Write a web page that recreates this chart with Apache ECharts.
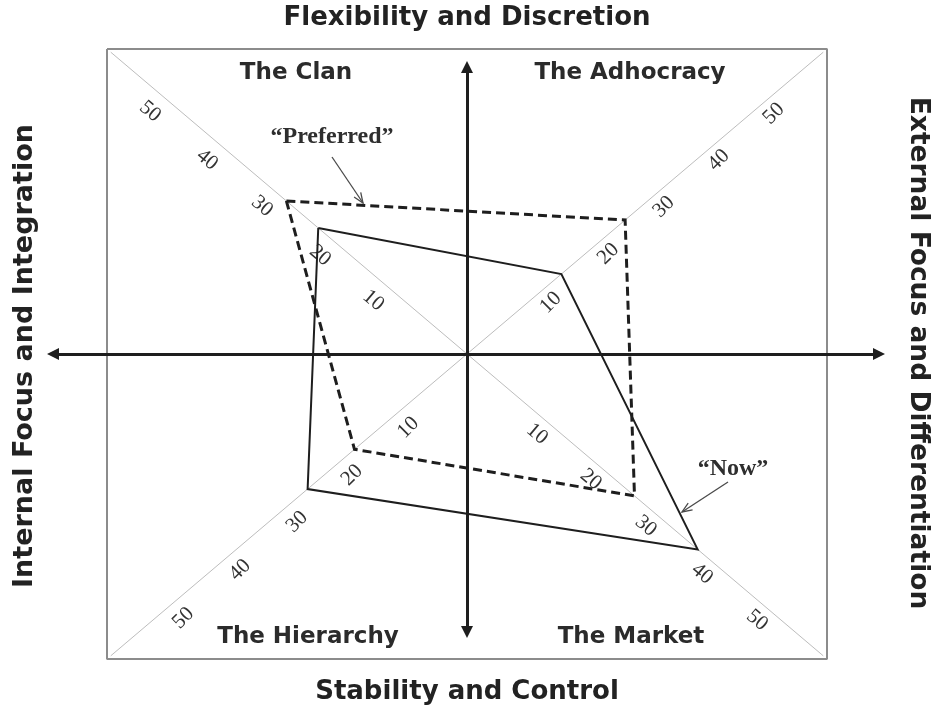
<!DOCTYPE html>
<html><head><meta charset="utf-8">
<script src="https://cdn.jsdelivr.net/npm/echarts@6/dist/echarts.min.js"></script>
<style>html,body{margin:0;padding:0;background:#fff}#c{width:942px;height:708px}</style>
</head><body><div id="c"></div>
<script>
// Culture types, one per diagonal: Clan (top-left), Adhocracy (top-right), Market (bottom-right), Hierarchy (bottom-left)
const cultures = ['The Clan', 'The Adhocracy', 'The Market', 'The Hierarchy'];
// Profile scores per culture, in the order above
const nowScores = [23.8, 15.1, 36.9, 25.5];
const preferredScores = [28.9, 25.3, 26.8, 18.0];
// Diagonal scale labels and where each label sits along its diagonal
const tickLabels = ['10', '20', '30', '40', '50'];
const clanTickPos = [15.0, 23.5, 32.8, 41.6, 50.7];
const adhocracyTickPos = [13.4, 22.6, 31.5, 40.3, 49.1];
const marketTickPos = [11.2, 19.8, 28.6, 37.6, 46.4];
const hierarchyTickPos = [9.4, 18.4, 27.2, 36.3, 45.4];
// Dimension titles: top, bottom, left, right
const dimensionTitles = ['Flexibility and Discretion', 'Stability and Control', 'Internal Focus and Integration', 'External Focus and Differentiation'];
const seriesNames = ['\u201CNow\u201D', '\u201CPreferred\u201D'];
const frameExtent = 57.6;
const diagonalExtent = 57;

// direction of each culture's diagonal in the (x, y) plane
const dirs = [[-1, 1], [1, 1], [1, -1], [-1, -1]];
function polygon(scores) {
  const pts = scores.map((v, i) => [dirs[i][0] * v, dirs[i][1] * v]);
  pts.push(pts[0].slice());
  return pts;
}
const tickSets = [clanTickPos, adhocracyTickPos, marketTickPos, hierarchyTickPos];
const tickStyle = [{rot: -40, off: 26}, {rot: 45, off: 19.6}, {rot: -40, off: 20.6}, {rot: 45, off: 23.8}];
const tickData = [];
const tickMeta = [];
tickSets.forEach((arr, i) => arr.forEach((p, j) => {
  tickData.push([dirs[i][0] * p, dirs[i][1] * p]);
  tickMeta.push({text: tickLabels[j], axis: i});
}));

const chart = echarts.init(document.getElementById('c'), null, {renderer: 'canvas'});
const ink = '#1e1e1e';
const E = frameExtent, D = diagonalExtent;

function arrowGraphic(x1, y1, x2, y2) {
  const len = Math.hypot(x2 - x1, y2 - y1);
  const ux = (x2 - x1) / len, uy = (y2 - y1) / len;
  const px = -uy, py = ux;
  const bx = x2 - ux * 10, by = y2 - uy * 10;
  return [
    {type: 'line', shape: {x1, y1, x2, y2}, style: {stroke: '#4a4a4a', lineWidth: 1.3}, z: 50},
    {type: 'polyline', shape: {points: [[bx + px * 4, by + py * 4], [x2, y2], [bx - px * 4, by - py * 4]]}, style: {stroke: '#4a4a4a', lineWidth: 1.3, fill: null}, z: 50}
  ];
}
function txt(text, x, y, font, fill, rotation) {
  return {type: 'text', x, y, rotation: rotation || 0, z: 50,
    style: {text, font, fill, align: 'center', verticalAlign: 'middle', textAlign: 'center', textVerticalAlign: 'middle'}};
}
const quadFont = 'bold 23px "DejaVu Sans"';
const annFont = 'bold 24px "Liberation Serif"';

const option = {
  animation: false,
  backgroundColor: '#ffffff',
  grid: {left: 47, right: 55, top: 49, bottom: 49, show: false},
  xAxis: {type: 'value', min: -67.2, max: 67.2, show: false},
  yAxis: {type: 'value', min: -57.6, max: 57.6, show: false},
  series: [
    {
      type: 'line', name: 'frame', silent: true, symbol: 'none', z: 2,
      data: [[-E, E], [E, E], [E, -E], [-E, -E], [-E, E]],
      lineStyle: {color: '#8c8c8c', width: 2},
      markLine: {
        silent: true, symbol: ['triangle', 'triangle'], symbolSize: 12, animation: false,
        label: {show: false}, emphasis: {disabled: true},
        lineStyle: {color: ink, width: 3, type: 'solid'},
        data: [
          [{coord: [-66.24, 0]}, {coord: [65.92, 0]}],
          [{coord: [0, 54.2]}, {coord: [0, -52.5]}]
        ]
      }
    },
    {
      type: 'line', name: 'diag1', silent: true, symbol: 'none', z: 1,
      data: [[-D, D], [D, -D]], lineStyle: {color: '#bdbdbd', width: 1}
    },
    {
      type: 'line', name: 'diag2', silent: true, symbol: 'none', z: 1,
      data: [[-D, -D], [D, D]], lineStyle: {color: '#bdbdbd', width: 1}
    },
    {
      type: 'custom', name: 'ticks', silent: true, z: 3,
      data: tickData,
      renderItem: function (params, api) {
        const pt = api.coord([api.value(0), api.value(1)]);
        const m = tickMeta[params.dataIndex];
        const st = tickStyle[m.axis];
        return {type: 'text', x: pt[0], y: pt[1] + st.off, rotation: st.rot * Math.PI / 180,
          style: {text: m.text, font: '21px "Liberation Serif"', fill: '#333333', align: 'center', verticalAlign: 'middle'}};
      }
    },
    {
      type: 'line', name: seriesNames[0], silent: true, symbol: 'none', z: 5,
      data: polygon(nowScores),
      lineStyle: {color: ink, width: 2, join: 'miter'}
    },
    {
      type: 'line', name: seriesNames[1], silent: true, symbol: 'none', z: 6,
      data: polygon(preferredScores),
      lineStyle: {color: ink, width: 3, type: [9, 5], join: 'miter'}
    }
  ],
  graphic: [
    txt(dimensionTitles[0], 467, 18, 'bold 26px "DejaVu Sans"', '#222'),
    txt(dimensionTitles[1], 467, 692, 'bold 26px "DejaVu Sans"', '#222'),
    txt(dimensionTitles[2], 25, 356, 'bold 27px "DejaVu Sans"', '#222', Math.PI / 2),
    txt(dimensionTitles[3], 918, 353, 'bold 26.5px "DejaVu Sans"', '#222', -Math.PI / 2),
    txt(cultures[0], 296, 73, quadFont, '#2b2b2b'),
    txt(cultures[1], 630, 73, quadFont, '#2b2b2b'),
    txt(cultures[2], 631, 637, quadFont, '#2b2b2b'),
    txt(cultures[3], 308, 637, quadFont, '#2b2b2b'),
    txt(seriesNames[1], 332, 137, annFont, '#2e2e2e'),
    txt(seriesNames[0], 733, 469, annFont, '#2e2e2e'),
    ...arrowGraphic(332, 157, 363, 203),
    ...arrowGraphic(728, 482, 682, 512)
  ]
};
chart.setOption(option);
</script>
</body></html>
